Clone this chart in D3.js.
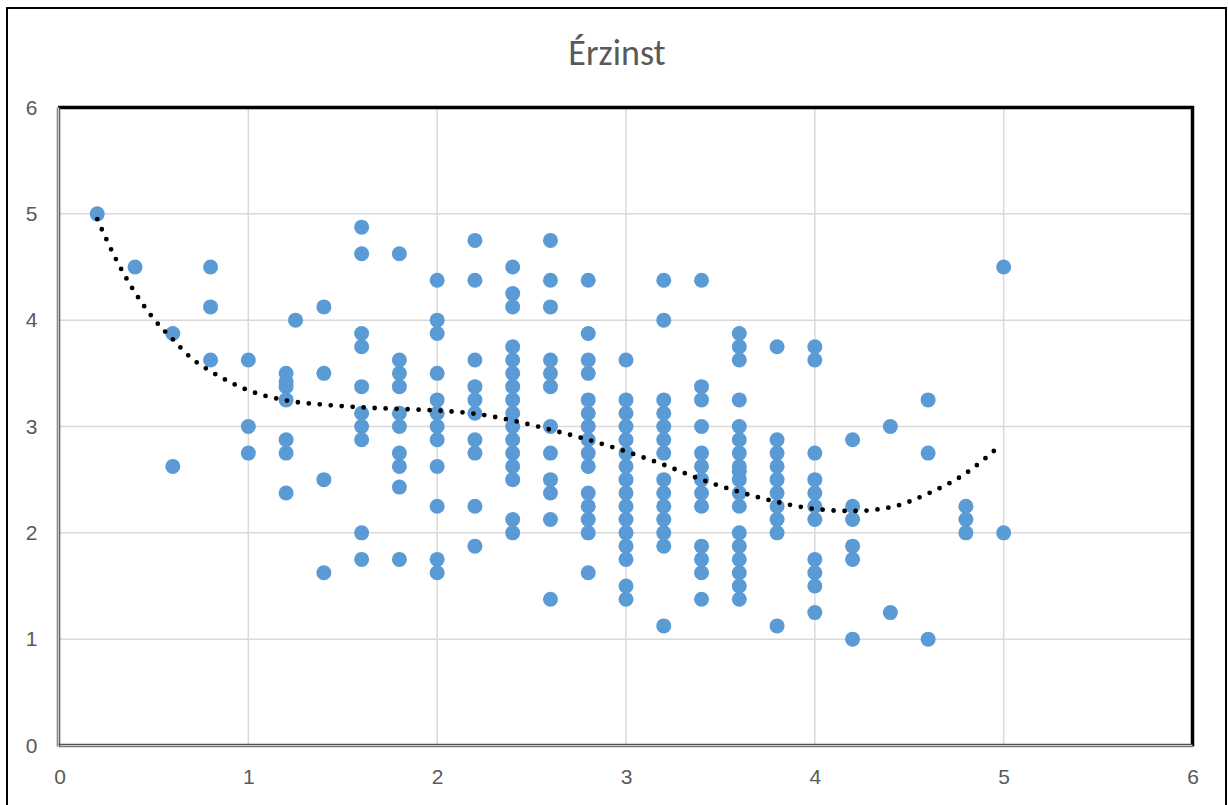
<!DOCTYPE html>
<html>
<head>
<meta charset="utf-8">
<script src="https://cdn.jsdelivr.net/npm/d3@7"></script>
<style>
  html, body { margin: 0; padding: 0; background: #fff; }
  svg { display: block; font-family: Carlito, Calibri, "Liberation Sans Narrow", Lato, sans-serif; }
</style>
</head>
<body>
<div id="chart"></div>
<script>
// x positions of the dot columns
const colX = [0.2, 0.4, 0.6, 0.8, 1.0, 1.2, 1.25, 1.4, 1.6, 1.8, 2.0, 2.2, 2.4, 2.6, 2.8,
  3.0, 3.2, 3.4, 3.6, 3.8, 4.0, 4.2, 4.4, 4.6, 4.8, 5.0];
// y values in each column
const colY = [
  [5],
  [4.5],
  [3.875, 2.625],
  [4.5, 4.125, 3.625],
  [3.625, 3.0, 2.75],
  [3.5, 3.42, 3.375, 3.25, 2.875, 2.75, 2.375],
  [4.0],
  [4.125, 3.5, 2.5, 1.625],
  [4.875, 4.625, 3.875, 3.75, 3.375, 3.125, 3.0, 2.875, 2.0, 1.75],
  [4.625, 3.625, 3.5, 3.375, 3.125, 3.0, 2.75, 2.625, 2.43, 1.75],
  [4.375, 4.0, 3.875, 3.5, 3.25, 3.125, 3.0, 2.875, 2.625, 2.25, 1.75, 1.625],
  [4.75, 4.375, 3.625, 3.375, 3.25, 3.125, 2.875, 2.75, 2.25, 1.875],
  [4.5, 4.25, 4.125, 3.75, 3.625, 3.5, 3.375, 3.25, 3.125, 3.0, 2.875, 2.75, 2.625, 2.5, 2.125, 2.0],
  [4.75, 4.375, 4.125, 3.625, 3.5, 3.375, 3.0, 2.75, 2.5, 2.375, 2.125, 1.375],
  [4.375, 3.875, 3.625, 3.5, 3.25, 3.125, 3.0, 2.875, 2.75, 2.625, 2.375, 2.25, 2.125, 2.0, 1.625],
  [3.625, 3.25, 3.125, 3.0, 2.875, 2.75, 2.625, 2.5, 2.375, 2.25, 2.125, 2.0, 1.875, 1.75, 1.5, 1.375],
  [4.375, 4.0, 3.25, 3.125, 3.0, 2.875, 2.75, 2.5, 2.375, 2.25, 2.125, 2.0, 1.875, 1.125],
  [4.375, 3.375, 3.25, 3.0, 2.75, 2.625, 2.5, 2.375, 2.25, 1.875, 1.75, 1.625, 1.375],
  [3.875, 3.75, 3.625, 3.25, 3.0, 2.875, 2.75, 2.625, 2.58, 2.5, 2.375, 2.25, 2.0, 1.875, 1.75, 1.625, 1.5, 1.375],
  [3.75, 2.875, 2.75, 2.625, 2.5, 2.375, 2.25, 2.125, 2.0, 1.125],
  [3.75, 3.625, 2.75, 2.5, 2.375, 2.25, 2.125, 1.75, 1.625, 1.5, 1.25],
  [2.875, 2.25, 2.125, 1.875, 1.75, 1.0],
  [3.0, 1.25],
  [3.25, 2.75, 1.0],
  [2.25, 2.125, 2.0],
  [4.5, 2.0]
];
// trend line
const trendX = [0.2, 0.3, 0.4, 0.5, 0.6, 0.7, 0.8, 0.9, 1.0, 1.2, 1.4, 1.6, 1.8, 2.0, 2.2, 2.4,
  2.6, 2.8, 3.0, 3.2, 3.4, 3.6, 3.8, 4.0, 4.2, 4.4, 4.6, 4.8, 4.98];
const trendY = [4.95, 4.57, 4.26, 4.01, 3.82, 3.64, 3.52, 3.42, 3.34, 3.245, 3.205, 3.18, 3.165,
  3.15, 3.12, 3.056, 2.97, 2.875, 2.765, 2.64, 2.5, 2.385, 2.29, 2.225, 2.205, 2.24, 2.37, 2.56, 2.82];
const xTicks = [0, 1, 2, 3, 4, 5, 6];
const yTicks = [0, 1, 2, 3, 4, 5, 6];
const title = 'Érzinst';

const W = 1228, H = 805;
const plot = { left: 59.5, right: 1192.5, top: 107.5, bottom: 745.5 };

const svg = d3.select('#chart').append('svg')
  .attr('width', W)
  .attr('height', H);

svg.append('rect')
  .attr('width', W).attr('height', H)
  .attr('fill', '#fff');

// outer chart border (runs off the bottom)
svg.append('rect')
  .attr('x', 7).attr('y', 8)
  .attr('width', 1219).attr('height', 820)
  .attr('fill', 'none')
  .attr('stroke', '#000')
  .attr('stroke-width', 2);

const x = d3.scaleLinear().domain([0, 6]).range([plot.left, plot.right]);
const y = d3.scaleLinear().domain([0, 6]).range([plot.bottom, plot.top]);

// gridlines
svg.append('g')
  .selectAll('line')
  .data(xTicks.slice(1, -1))
  .join('line')
  .attr('x1', d => x(d)).attr('x2', d => x(d))
  .attr('y1', plot.top).attr('y2', plot.bottom)
  .attr('stroke', '#d9d9d9')
  .attr('stroke-width', 1.5);

svg.append('g')
  .selectAll('line')
  .data(yTicks.slice(1, -1))
  .join('line')
  .attr('y1', d => y(d)).attr('y2', d => y(d))
  .attr('x1', plot.left).attr('x2', plot.right)
  .attr('stroke', '#d9d9d9')
  .attr('stroke-width', 1.5);

// plot area frame: thick black top/right, grey double left/bottom
svg.append('line')
  .attr('x1', plot.left - 1.5).attr('x2', plot.right + 1.5)
  .attr('y1', plot.top).attr('y2', plot.top)
  .attr('stroke', '#000').attr('stroke-width', 3.5);
svg.append('line')
  .attr('x1', plot.right).attr('x2', plot.right)
  .attr('y1', plot.top - 1.5).attr('y2', plot.bottom + 1)
  .attr('stroke', '#000').attr('stroke-width', 3.5);

[[-1.2, '#7a7a7a'], [0, '#c8c8c8'], [1.2, '#555']].forEach(([o, c]) => {
  svg.append('line')
    .attr('x1', plot.left - 1 + o).attr('x2', plot.left - 1 + o)
    .attr('y1', plot.top).attr('y2', plot.bottom + 1)
    .attr('stroke', c).attr('stroke-width', 1.2);
  svg.append('line')
    .attr('x1', plot.left - 1).attr('x2', plot.right)
    .attr('y1', plot.bottom - o).attr('y2', plot.bottom - o)
    .attr('stroke', c).attr('stroke-width', 1.2);
});

// tick labels
const xAxis = d3.axisBottom(x).tickValues(xTicks).tickFormat(d3.format('d'))
  .tickSize(0).tickPadding(24);
const gx = svg.append('g')
  .attr('transform', `translate(0,${plot.bottom})`)
  .call(xAxis);
gx.select('.domain').remove();
gx.selectAll('text')
  .attr('fill', '#595959')
  .style('font-size', '21px')
  .style('font-family', null);

const yAxis = d3.axisLeft(y).tickValues(yTicks).tickFormat(d3.format('d'))
  .tickSize(0).tickPadding(22);
const gy = svg.append('g')
  .attr('transform', `translate(${plot.left},0)`)
  .call(yAxis);
gy.select('.domain').remove();
gy.selectAll('text')
  .attr('fill', '#595959')
  .style('font-size', '21px')
  .style('font-family', null);

// title
svg.append('text')
  .attr('x', 617)
  .attr('y', 65)
  .attr('text-anchor', 'middle')
  .attr('fill', '#595959')
  .style('font-size', '36px')
  .text(title);

// dots
const points = colX.flatMap((cx, i) => colY[i].map(v => ({ x: cx, y: v })));
svg.append('g')
  .selectAll('circle')
  .data(points)
  .join('circle')
  .attr('cx', d => x(d.x))
  .attr('cy', d => y(d.y))
  .attr('r', 7.5)
  .attr('fill', '#5b9bd5');

// dotted trend line
const trend = trendX.map((t, i) => [t, trendY[i]]);
svg.append('path')
  .datum(trend)
  .attr('d', d3.line().x(d => x(d[0])).y(d => y(d[1])).curve(d3.curveMonotoneX))
  .attr('fill', 'none')
  .attr('stroke', '#000')
  .attr('stroke-width', 4.8)
  .attr('stroke-linecap', 'round')
  .attr('stroke-dasharray', '0 11');
</script>
</body>
</html>
